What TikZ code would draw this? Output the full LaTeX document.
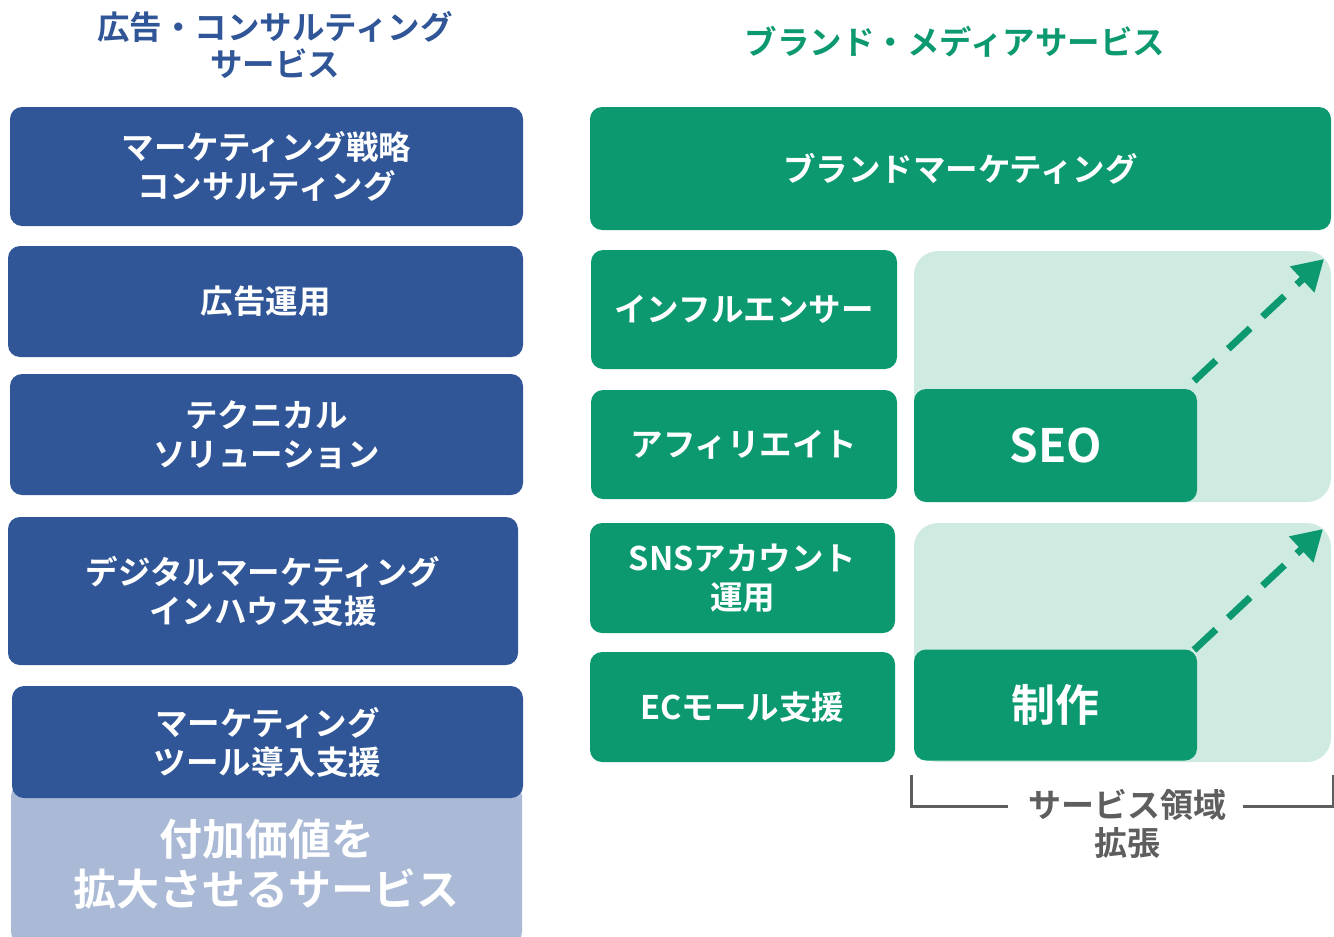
\documentclass[tikz,border=0pt]{standalone}
\usepackage{fontspec}
\setmainfont{Noto Sans CJK JP}[BoldFont={* Bold}]
\newfontfamily\jpb{Noto Sans CJK JP Bold}
\usetikzlibrary{arrows.meta}
\definecolor{cblue}{HTML}{305697}
\definecolor{cgreen}{HTML}{0C9970}
\definecolor{clgreen}{HTML}{CFEAE1}
\definecolor{clblue}{HTML}{A9B9D6}
\definecolor{cgray}{HTML}{5E5E5E}
\tikzset{
  box/.style={rounded corners=12pt, inner sep=0pt, align=center, text=white,
    font=\jpb\fontsize{32.5}{39}\selectfont},
  bluebox/.style={box, fill=cblue},
  greenbox/.style={box, fill=cgreen},
  bgbox/.style={fill=clgreen, rounded corners=24pt, inner sep=0pt},
  growarrow/.style={draw=cgreen, line width=7pt, dash pattern=on 30pt off 17pt,
    -{Triangle[length=30pt,width=34pt]}},
  title/.style={align=center, font=\jpb\fontsize{32.5}{37}\selectfont}
}
\begin{document}
\begin{tikzpicture}[x=1pt,y=-1pt]
\useasboundingbox (0,0) rectangle (1334,937);
% titles
\node[title, text=cblue] (tl) at (275,45) {広告・コンサルティング\\サービス};
\node[title, text=cgreen] (tr) at (955,42) {ブランド・メディアサービス};
% left column
\node[box, fill=clblue, minimum width=511pt, minimum height=160pt,
  font=\jpb\fontsize{43}{50}\selectfont] (l6) at (266.5,864) {付加価値を\\拡大させるサービス};
\node[bluebox, minimum width=513pt, minimum height=119pt] (l1) at (266.5,166.5) {マーケティング戦略\\コンサルティング};
\node[bluebox, minimum width=515pt, minimum height=111pt] (l2) at (265.5,301.5) {広告運用};
\node[bluebox, minimum width=513pt, minimum height=121pt] (l3) at (266.5,434.5) {テクニカル\\ソリューション};
\node[bluebox, minimum width=510pt, minimum height=148pt] (l4) at (263,591) {デジタルマーケティング\\インハウス支援};
\node[bluebox, minimum width=511pt, minimum height=112pt] (l5) at (267.5,742) {マーケティング\\ツール導入支援};
% right column
\node[greenbox, minimum width=741pt, minimum height=123pt] (r0) at (960.5,168.5) {ブランドマーケティング};
\node[greenbox, minimum width=306pt, minimum height=119pt] (r1) at (744,309.5) {インフルエンサー};
\node[greenbox, minimum width=306pt, minimum height=109pt] (r2) at (744,444.5) {アフィリエイト};
\node[greenbox, minimum width=305pt, minimum height=110pt] (r3) at (742.5,578) {SNSアカウント\\運用};
\node[greenbox, minimum width=305pt, minimum height=110pt] (r4) at (742.5,707) {ECモール支援};
% expansion areas
\node[bgbox, minimum width=417pt, minimum height=251pt] (bg1) at (1122.5,376.5) {};
\node[greenbox, minimum width=283pt, minimum height=113pt,
  font=\jpb\fontsize{46}{50}\selectfont] (seo) at (1055.5,445.5) {SEO};
\node[bgbox, minimum width=417pt, minimum height=239pt] (bg2) at (1122.5,642.5) {};
\node[greenbox, minimum width=283pt, minimum height=111pt,
  font=\jpb\fontsize{44}{50}\selectfont] (sei) at (1055.5,705) {制作};
% arrows
\coordinate (a1s) at (1194,381);
\coordinate (a1e) at (1324,259);
\coordinate (a2s) at (1194,650);
\coordinate (a2e) at (1323,529);
\draw[growarrow] (a1s) -- (a1e);
\draw[growarrow] (a2s) -- (a2e);
% bracket
\node[align=center, text=cgray, font=\jpb\fontsize{33}{38}\selectfont] (ext) at (1127,824) {サービス領域\\拡張};
\coordinate (bl0) at (911,775);
\coordinate (bl1) at (911,806);
\coordinate (bl2) at (1008,806);
\coordinate (br0) at (1333,775);
\coordinate (br1) at (1333,806);
\coordinate (br2) at (1243,806);
\draw[cgray, line width=3pt] (bl0) -- (bl1) -- (bl2);
\draw[cgray, line width=3pt] (br0) -- (br1) -- (br2);
\end{tikzpicture}
\end{document}
